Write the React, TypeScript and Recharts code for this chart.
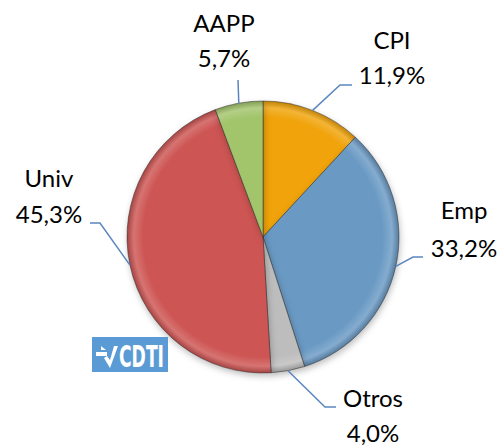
import React from "react";
import { PieChart, Pie, Cell } from "recharts";

// Shares by sector (%), clockwise from 12 o'clock
const categories = ["CPI", "Emp", "Otros", "Univ", "AAPP"];
const shares = [11.9, 33.2, 4.0, 45.3, 5.7];
const colors = ["#F0A30A", "#6A9AC4", "#BDBDBD", "#CD5553", "#A2C46B"];

const data = categories.map((name, i) => ({ name, value: shares[i] }));

const W = 503;
const H = 447;
const CX = 263;
const CY = 237;
const R = 136;
const RAD = Math.PI / 180;

// leader elbow / end and text placement, relative to the pie centre
const labelLayout: Record<string, { ex: number; ey: number; hx: number; tx: number; y1: number; y2: number }> = {
    CPI: { ex: 77, ey: -152, hx: 89, tx: 129, y1: -188, y2: -153 },
    Emp: { ex: 150, ey: 20, hx: 160, tx: 201, y1: -18, y2: 20 },
    Otros: { ex: 62, ey: 170, hx: 73, tx: 110, y1: 170, y2: 205 },
    Univ: { ex: -163, ey: -14, hx: -173, tx: -214, y1: -50, y2: -14 },
    AAPP: { ex: -25, ey: -157, hx: -25, tx: -39, y1: -205, y2: -170 },
};

const fmt = (v: number) => v.toFixed(1).replace(".", ",") + "%";

const lighten = (hex: string, amt: number) => {
    const n = parseInt(hex.slice(1), 16);
    const f = (c: number) => Math.round(c + (255 - c) * amt);
    return `rgb(${f((n >> 16) & 255)},${f((n >> 8) & 255)},${f(n & 255)})`;
};
const darken = (hex: string, amt: number) => {
    const n = parseInt(hex.slice(1), 16);
    const f = (c: number) => Math.round(c * (1 - amt));
    return `rgb(${f((n >> 16) & 255)},${f((n >> 8) & 255)},${f(n & 255)})`;
};

const renderLabel = (props: any) => {
    const { cx, cy, midAngle, outerRadius, name, value } = props;
    const l = labelLayout[name];
    if (!l) return null;
    const sx = cx + outerRadius * Math.cos(-midAngle * RAD);
    const sy = cy + outerRadius * Math.sin(-midAngle * RAD);
    return (
        <g>
            <polyline
                points={`${sx},${sy} ${cx + l.ex},${cy + l.ey} ${cx + l.hx},${cy + l.ey}`}
                fill="none"
                stroke="#5B87C0"
                strokeWidth={1.5}
            />
            <text x={cx + l.tx} y={cy + l.y1} textAnchor="middle" fontSize={24} fill="#000" fontFamily="Lato, 'Open Sans', sans-serif">
                {name}
            </text>
            <text x={cx + l.tx} y={cy + l.y2} textAnchor="middle" fontSize={24} fill="#000" fontFamily="Lato, 'Open Sans', sans-serif">
                {fmt(value)}
            </text>
        </g>
    );
};

function Logo() {
    return (
        <svg width={130} height={35} style={{ position: "absolute", left: 92, top: 337, overflow: "visible" }}>
            <rect x={0} y={0} width={76} height={35} fill="#5B9BD5" />
            <path d="M4 15 H15 V19 H4 Z" fill="#fff" />
            <path d="M9 9 L14 13 L9 13 Z" fill="#fff" />
            <path d="M12 21 L18 31 L26 9 L22 9 L18 23 L15 19 Z" fill="#fff" />
            <text
                x={27}
                y={30}
                fill="#fff"
                fontSize={30}
                fontWeight="bold"
                fontFamily="'Liberation Sans Narrow', 'DejaVu Sans Condensed', sans-serif"
                textLength={45}
                lengthAdjust="spacingAndGlyphs"
            >
                CDTI
            </text>
        </svg>
    );
}

export default function App() {
    return (
        <div style={{ position: "absolute", left: 0, top: 0, width: W, height: H, background: "#fff" }}>
            <style>{`.recharts-pie-sector path { filter: drop-shadow(1px 3px 3px rgba(0,0,0,0.25)); }`}</style>
            <PieChart width={W} height={H} margin={{ top: 0, right: 0, bottom: 0, left: 0 }}>
                <defs>
                    {colors.map((c, i) => (
                        <radialGradient key={i} id={`bevel${i}`} gradientUnits="userSpaceOnUse" cx={CX} cy={CY} r={R}>
                            <stop offset="0%" stopColor={c} />
                            <stop offset="88%" stopColor={c} />
                            <stop offset="95%" stopColor={lighten(c, 0.18)} />
                            <stop offset="100%" stopColor={darken(c, 0.2)} />
                        </radialGradient>
                    ))}
                </defs>
                <Pie
                    data={data}
                    dataKey="value"
                    nameKey="name"
                    cx={CX}
                    cy={CY}
                    outerRadius={R}
                    startAngle={90}
                    endAngle={-270}
                    stroke="rgba(40,40,40,0.6)"
                    strokeWidth={0.8}
                    label={renderLabel}
                    labelLine={false}
                    isAnimationActive={false}
                >
                    {data.map((d, i) => (
                        <Cell key={d.name} fill={`url(#bevel${i})`} />
                    ))}
                </Pie>
            </PieChart>
            <Logo />
        </div>
    );
}
